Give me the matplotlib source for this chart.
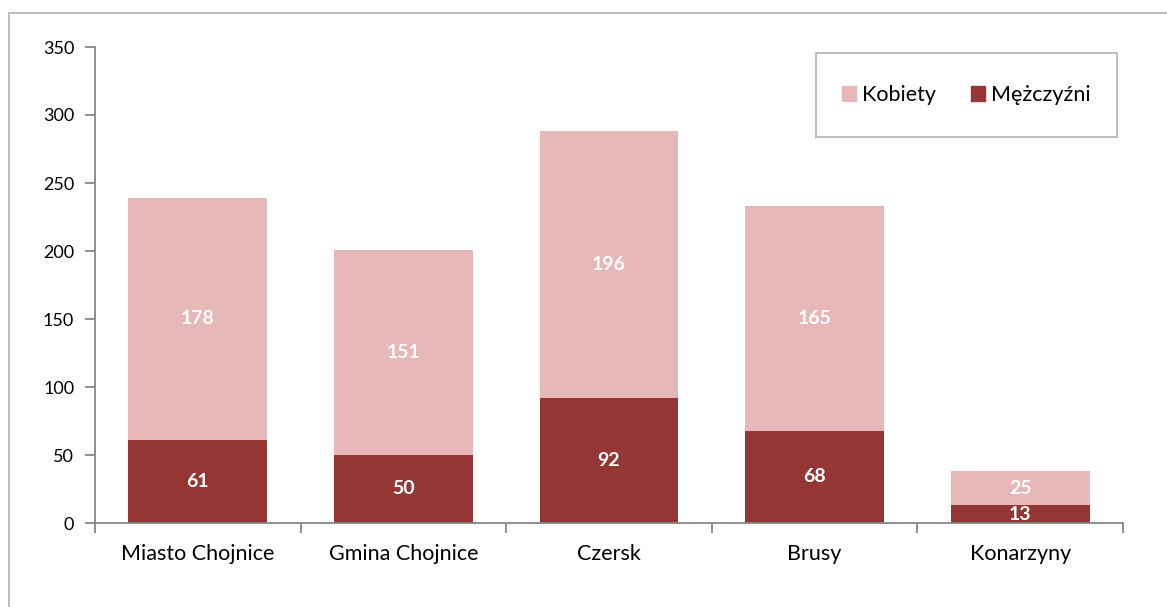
import matplotlib.pyplot as plt
from matplotlib.patches import Rectangle
from matplotlib.lines import Line2D

categories = ["Miasto Chojnice", "Gmina Chojnice", "Czersk", "Brusy", "Konarzyny"]
men = [61, 50, 92, 68, 13]
women = [178, 151, 196, 165, 25]
series_names = ["Kobiety", "Mężczyźni"]
yticks = [0, 50, 100, 150, 200, 250, 300, 350]

c_men = "#943634"
c_women = "#E6B9B8"

plt.rcParams['font.family'] = ['Lato', 'DejaVu Sans']

W, H = 1167, 607
fig = plt.figure(figsize=(W / 100, H / 100), dpi=100)
ax = fig.add_axes([95 / W, 1 - 523 / H, (1123 - 95) / W, (523 - 47) / H])

x = list(range(len(categories)))
bw = 0.675
ax.bar(x, men, width=bw, color=c_men, label=series_names[1], zorder=2)
ax.bar(x, women, width=bw, bottom=men, color=c_women, label=series_names[0], zorder=2)

for i in x:
    ax.text(i, men[i] / 2, str(men[i]), ha='center', va='center', color='white',
            fontsize=14, fontweight='bold', zorder=3)
    ax.text(i, men[i] + women[i] / 2, str(women[i]), ha='center', va='center', color='white',
            fontsize=14, fontweight='bold', zorder=3)

ax.set_xlim(-0.5, len(categories) - 0.5)
ax.set_ylim(0, 350)
ax.set_yticks(yticks)
ax.set_yticklabels([str(t) for t in yticks], fontsize=13)
ax.set_xticks(x)
ax.set_xticklabels(categories, fontsize=15.5)
ax.set_xticks([i - 0.5 for i in range(len(categories) + 1)], minor=True)
ax.tick_params(axis='x', which='major', length=0, pad=15)
ax.tick_params(axis='x', which='minor', length=7, color='#868686', width=1.3)
ax.tick_params(axis='y', length=7, color='#868686', width=1.3, pad=8)
for s in ['top', 'right']:
    ax.spines[s].set_visible(False)
for s in ['left', 'bottom']:
    ax.spines[s].set_color('#868686')
    ax.spines[s].set_linewidth(1.3)

# legend
handles = [Rectangle((0, 0), 1, 1, color=c_women), Rectangle((0, 0), 1, 1, color=c_men)]
leg = fig.legend(handles, series_names, loc='center', ncol=2, fontsize=15.5,
                 bbox_to_anchor=((816 + 1117) / 2 / W, 1 - (53 + 137) / 2 / H),
                 frameon=False, handlelength=0.65, handleheight=0.65, handletextpad=0.3,
                 columnspacing=1.6)
fig.patches.append(Rectangle((816 / W, 1 - 137 / H), (1117 - 816) / W, (137 - 53) / H,
                             transform=fig.transFigure, fill=False, edgecolor='#BFBFBF',
                             linewidth=1.5))

# outer border (top and left visible)
fig.lines.append(Line2D([9 / W, 9 / W], [0, 1 - 13 / H], transform=fig.transFigure,
                        color='#BFBFBF', linewidth=1.5))
fig.lines.append(Line2D([9 / W, 1], [1 - 13 / H, 1 - 13 / H], transform=fig.transFigure,
                        color='#BFBFBF', linewidth=1.5))

fig.savefig('out.png', dpi=100)
